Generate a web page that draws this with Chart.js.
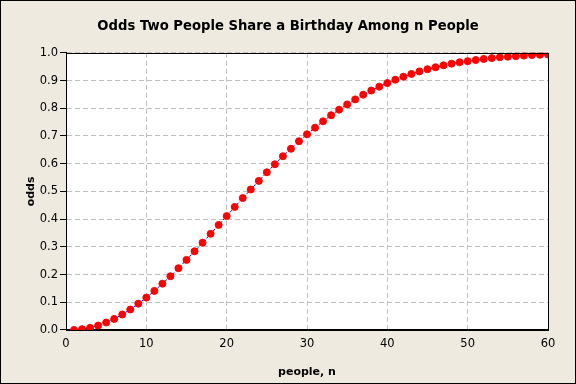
<!DOCTYPE html>
<html>
<head>
<meta charset="utf-8">
<script src="https://cdn.jsdelivr.net/npm/chart.js@4/dist/chart.umd.min.js"></script>
<style>
  html, body { margin: 0; padding: 0; background: #fff; }
  #marco { width: 576px; height: 384px; box-sizing: border-box; border: 1px solid #000; background: #EEEAE0; }
  #grafico { display: block; }
</style>
</head>
<body>
<div id="marco"><canvas id="grafico" width="574" height="382"></canvas></div>
<script>
// numero de personas
var personas = [1,2,3,4,5,6,7,8,9,10,11,12,13,14,15,16,17,18,19,20,
	21,22,23,24,25,26,27,28,29,30,31,32,33,34,35,36,37,38,39,40,
	41,42,43,44,45,46,47,48,49,50,51,52,53,54,55,56,57,58,59,60];

// probabilidad
var probabilidad = [0.000,0.003,0.008,0.016,0.027,0.040,0.056,0.074,0.095,0.117,
	0.141,0.167,0.194,0.223,0.253,0.284,0.315,0.347,0.379,0.411,
	0.444,0.476,0.507,0.538,0.569,0.598,0.627,0.654,0.681,0.706,
	0.730,0.753,0.775,0.795,0.814,0.832,0.849,0.864,0.878,0.891,
	0.903,0.914,0.924,0.933,0.941,0.948,0.955,0.961,0.966,0.970,
	0.974,0.978,0.981,0.984,0.986,0.988,0.990,0.992,0.993,0.994];

var ticksX = [0,10,20,30,40,50,60];
var ticksY = [0,0.1,0.2,0.3,0.4,0.5,0.6,0.7,0.8,0.9,1.0];

var puntos = personas.map(function(n, i){ return {x: n, y: probabilidad[i]}; });

// fondo blanco y marco negro del area de dibujo
var bordeArea = {
	id: 'bordeArea',
	beforeDraw: function(chart){
		var a = chart.chartArea, ctx = chart.ctx;
		ctx.save();
		ctx.fillStyle = '#FFFFFF';
		ctx.fillRect(a.left, a.top, a.right - a.left, a.bottom - a.top);
		ctx.restore();
	},
	afterDraw: function(chart){
		var a = chart.chartArea, ctx = chart.ctx;
		ctx.save();
		ctx.strokeStyle = '#000';
		ctx.lineWidth = 1;
		ctx.strokeRect(Math.round(a.left) + 0.5, Math.round(a.top) + 0.5, Math.round(a.right - a.left), Math.round(a.bottom - a.top));
		ctx.restore();
	}
};

var fuente = "'DejaVu Sans', Verdana, sans-serif";

new Chart(document.getElementById('grafico').getContext('2d'), {
	type: 'scatter',
	data: {
		datasets: [{
			label: 'odds',
			data: puntos,
			showLine: true,
			borderColor: '#0000FF',
			borderWidth: 1,
			borderDash: [3, 2],
			pointBackgroundColor: '#FF0000',
			pointBorderColor: '#FF0000',
			pointBorderWidth: 1,
			pointRadius: 3.5,
			tension: 0
		}]
	},
	options: {
		responsive: false,
		animation: false,
		layout: { padding: 0 },
		plugins: {
			legend: { display: false },
			tooltip: { enabled: false },
			title: {
				display: true,
				text: 'Odds Two People Share a Birthday Among n People',
				color: '#000',
				font: { family: fuente, size: 13.2, weight: 'bold' },
				padding: { top: 18, bottom: 18 }
			}
		},
		scales: {
			x: {
				type: 'linear',
				min: 0, max: 60,
				afterBuildTicks: function(s){ s.ticks = ticksX.map(function(v){ return {value: v}; }); },
				afterFit: function(s){ s.height = 53; },
				grid: { color: '#C0C0C0', drawTicks: false },
				border: { display: true, color: '#000', width: 1, dash: [5, 3] },
				ticks: { color: '#000', padding: 7, maxRotation: 0, font: { family: fuente, size: 11.5 } },
				title: { display: true, text: 'people, n', color: '#000', font: { family: fuente, size: 11, weight: 'bold' }, padding: { top: 0, bottom: 4 } }
			},
			y: {
				min: 0, max: 1,
				afterBuildTicks: function(s){ s.ticks = ticksY.map(function(v){ return {value: v}; }); },
				afterFit: function(s){ s.width = 65; },
				grid: { color: '#C0C0C0', tickColor: '#000', tickLength: 6, tickBorderDash: [] },
				border: { display: true, color: '#000', width: 1, dash: [5, 3] },
				ticks: { color: '#000', padding: 2, font: { family: fuente, size: 11.5 }, callback: function(v){ return v.toFixed(1); } },
				title: { display: true, text: 'odds', color: '#000', font: { family: fuente, size: 11, weight: 'bold' }, padding: { top: 24, bottom: 0 } }
			},
			// margen derecho vacio
			derecha: {
				position: 'right',
				min: 0, max: 1,
				afterFit: function(s){ s.width = 27; },
				grid: { display: false },
				border: { display: false },
				ticks: { display: false }
			}
		}
	},
	plugins: [bordeArea]
});
</script>
</body>
</html>
